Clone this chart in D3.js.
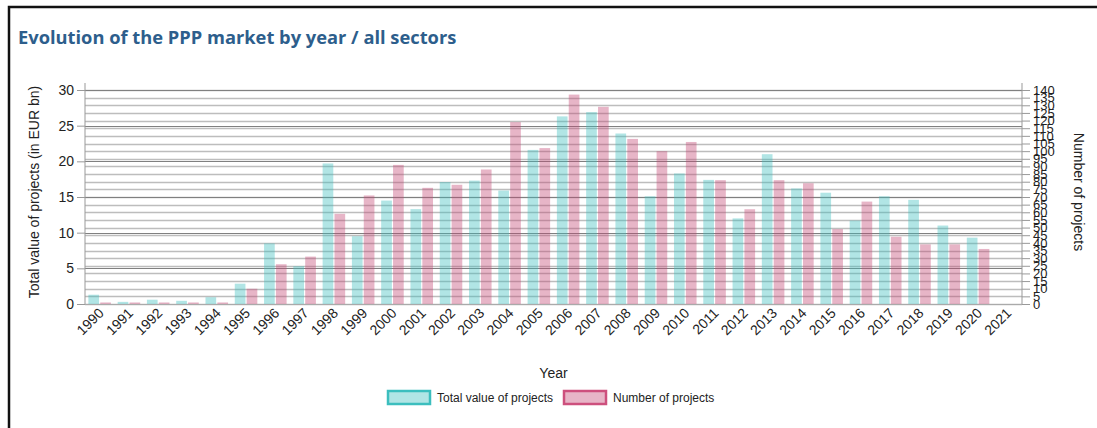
<!DOCTYPE html>
<html>
<head>
<meta charset="utf-8">
<script src="https://cdn.jsdelivr.net/npm/d3@7"></script>
<style>
  body { margin: 0; background: #fff; }
  svg text { font-family: "Liberation Sans", Arial, sans-serif; }
</style>
</head>
<body>
<svg width="1097" height="428"></svg>
<script>
// data
var years = ["1990","1991","1992","1993","1994","1995","1996","1997","1998","1999","2000","2001","2002","2003","2004","2005","2006","2007","2008","2009","2010","2011","2012","2013","2014","2015","2016","2017","2018","2019","2020","2021"];
var totalValue = [1.3,0.3,0.6,0.45,0.95,2.85,8.5,5.3,19.7,9.5,14.5,13.3,17.1,17.3,15.9,21.6,26.3,26.9,23.9,15.1,18.3,17.4,12.0,21.0,16.2,15.6,11.7,15.1,14.6,11.0,9.3,0];
var numProjects = [1,1,1,1,1,10,26,31,59,71,91,76,78,88,119,102,137,129,108,100,106,81,62,81,79,49,67,44,39,39,36,0];
var leftTicks = [0,5,10,15,20,25,30];
var rightTicks = d3.range(0, 145, 5);

function main(){
    var svg = d3.select("svg");
    var x0 = 85, x1 = 1022, yTop = 90, yBot = 304;

    // frame
    svg.append("path")
        .attr("d", "M9,428 L9,7 L1097,7")
        .attr("fill", "none").attr("stroke", "#111").attr("stroke-width", 2.5);

    // title
    svg.append("text")
        .attr("x", 18).attr("y", 44)
        .attr("fill", "#2d5e8c")
        .attr("font-size", "18.3px")
        .attr("font-weight", "bold")
        .style("font-family", "'Open Sans', sans-serif")
        .text("Evolution of the PPP market by year / all sectors");

    // scales
    var xScale = d3.scaleBand().domain(years).range([x0, x1]).paddingInner(0.23).paddingOuter(0.115);
    var xSub = d3.scaleBand().domain(["v","n"]).range([0, xScale.bandwidth()]).paddingInner(0.1);
    var yLeft = d3.scaleLinear().domain([0, 30]).range([yBot, yTop]);
    var yRight = d3.scaleLinear().domain([0, 140]).range([yBot, yTop]);

    // gridlines (right axis, lighter)
    svg.append("g").selectAll("line").data(rightTicks).enter().append("line")
        .attr("x1", x0).attr("x2", x1)
        .attr("y1", function(d){ return Math.round(yRight(d)) + 0.5; })
        .attr("y2", function(d){ return Math.round(yRight(d)) + 0.5; })
        .attr("stroke", "#bdbdbd").attr("stroke-width", 1.4);
    // gridlines (left axis, darker)
    svg.append("g").selectAll("line").data(leftTicks).enter().append("line")
        .attr("x1", x0).attr("x2", x1)
        .attr("y1", function(d){ return Math.round(yLeft(d)) + 0.5; })
        .attr("y2", function(d){ return Math.round(yLeft(d)) + 0.5; })
        .attr("stroke", "#808080").attr("stroke-width", 1);

    // bars
    var g = svg.append("g");
    g.selectAll(".v").data(years).enter().append("rect")
        .attr("class", "v")
        .attr("x", function(d){ return xScale(d) + xSub("v"); })
        .attr("width", xSub.bandwidth())
        .attr("y", function(d, i){ return yLeft(totalValue[i]); })
        .attr("height", function(d, i){ return yBot - yLeft(totalValue[i]); })
        .attr("fill", "rgba(60,190,190,0.4)");
    g.selectAll(".n").data(years).enter().append("rect")
        .attr("class", "n")
        .attr("x", function(d){ return xScale(d) + xSub("n"); })
        .attr("width", xSub.bandwidth())
        .attr("y", function(d, i){ return yRight(numProjects[i]); })
        .attr("height", function(d, i){ return yBot - yRight(numProjects[i]); })
        .attr("fill", "rgba(195,70,115,0.4)");

    // left axis
    var la = svg.append("g").attr("transform", "translate(" + x0 + ",0)")
        .call(d3.axisLeft(yLeft).tickValues(leftTicks).tickSize(8).tickPadding(3));
    la.selectAll("text").attr("font-size", "14px").attr("fill", "#222").style("font-family", "'Liberation Sans', Arial, sans-serif");
    la.selectAll("line").attr("stroke", "#999");
    la.select(".domain").attr("stroke", "#999").attr("d", "M0," + (yTop - 7) + "V" + yBot);

    // right axis
    var ra = svg.append("g").attr("transform", "translate(" + x1 + ",0)")
        .call(d3.axisRight(yRight).tickValues(rightTicks).tickSize(8).tickPadding(3));
    ra.selectAll("text").attr("font-size", "13px").attr("fill", "#222").style("font-family", "'Liberation Sans', Arial, sans-serif");
    ra.selectAll("line").attr("stroke", "#999");
    ra.select(".domain").attr("stroke", "#999").attr("d", "M0," + (yTop - 7) + "V" + yBot);

    // bottom axis
    var ba = svg.append("g").attr("transform", "translate(0," + yBot + ")")
        .call(d3.axisBottom(xScale).tickSize(0).tickPadding(0));
    ba.select(".domain").attr("stroke", "#aaa").attr("d", "M" + x0 + ",0.5H" + x1);
    ba.selectAll("text")
        .attr("font-size", "14px").attr("fill", "#222")
        .style("font-family", "'Liberation Sans', Arial, sans-serif")
        .attr("text-anchor", "end")
        .attr("dy", null).attr("y", 0)
        .attr("transform", "translate(5,10) rotate(-45)");

    // axis titles
    svg.append("text")
        .attr("transform", "translate(39,192) rotate(-90)")
        .attr("text-anchor", "middle").attr("font-size", "14px").attr("fill", "#222")
        .text("Total value of projects (in EUR bn)");
    svg.append("text")
        .attr("transform", "translate(1074,192) rotate(90)")
        .attr("text-anchor", "middle").attr("font-size", "14px").attr("fill", "#222")
        .text("Number of projects");
    svg.append("text")
        .attr("x", (x0 + x1) / 2).attr("y", 378)
        .attr("text-anchor", "middle").attr("font-size", "14px").attr("fill", "#222")
        .text("Year");

    // legend
    var legend = [
        {label: "Total value of projects", fill: "rgba(60,190,190,0.4)", stroke: "rgb(60,190,190)", x: 388},
        {label: "Number of projects", fill: "rgba(195,70,115,0.4)", stroke: "rgb(205,80,125)", x: 564}
    ];
    var lg = svg.append("g").selectAll("g").data(legend).enter().append("g");
    lg.append("rect")
        .attr("x", function(d){ return d.x; }).attr("y", 391)
        .attr("width", 42).attr("height", 13)
        .attr("fill", function(d){ return d.fill; })
        .attr("stroke", function(d){ return d.stroke; }).attr("stroke-width", 2.5);
    lg.append("text")
        .attr("x", function(d){ return d.x + 49; }).attr("y", 402)
        .attr("font-size", "12px").attr("fill", "#222")
        .text(function(d){ return d.label; });
}
main();
</script>
</body>
</html>
